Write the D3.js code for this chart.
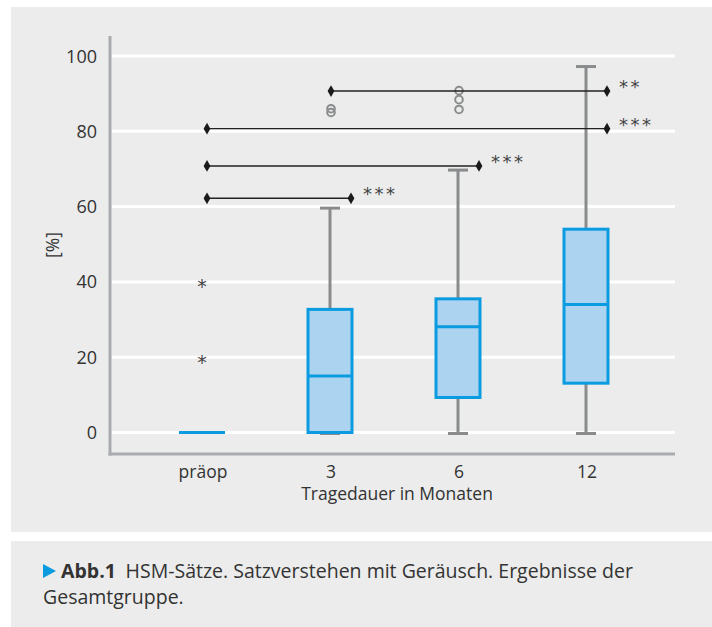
<!DOCTYPE html>
<html>
<head>
<meta charset="utf-8">
<script src="https://cdn.jsdelivr.net/npm/d3@7"></script>
<style>
  body { margin: 0; background: #fff; }
  svg text { font-family: "Open Sans", "Noto Sans", sans-serif; fill: #333; }
  svg text.star { font-family: "DejaVu Sans", sans-serif; fill: #444; }
</style>
</head>
<body>
<div id="App"></div>
<script>
// categories and box statistics
const categories = ['präop', '3', '6', '12'];
const whiskerLow = [0, 0, 0, 0];
const q1 = [0, 0, 9.3, 13.1];
const median = [0, 15.0, 28.1, 34.0];
const q3 = [0, 32.7, 35.5, 54.0];
const whiskerHigh = [0, 59.6, 69.7, 97.2];
// outliers: circles (o) and extremes (*)
const outliers = [
  { cat: '3', v: 86, kind: 'o' },
  { cat: '3', v: 85, kind: 'o' },
  { cat: '6', v: 90.8, kind: 'o' },
  { cat: '6', v: 88.4, kind: 'o' },
  { cat: '6', v: 85.8, kind: 'o' },
  { cat: 'präop', v: 39.6, kind: '*' },
  { cat: 'präop', v: 19.4, kind: '*' }
];
// significance brackets
const brackets = [
  { from: 'präop', to: '3', v: 62.2, label: '***' },
  { from: 'präop', to: '6', v: 70.8, label: '***' },
  { from: 'präop', to: '12', v: 80.7, label: '***' },
  { from: '3', to: '12', v: 90.7, label: '**' }
];
const yTicks = [0, 20, 40, 60, 80, 100];

const width = 712, height = 627;
const svg = d3.select('#App').append('svg')
  .attr('width', width).attr('height', height);

// panels
svg.append('rect').attr('x', 11).attr('y', 7).attr('width', width - 11).attr('height', 525).attr('fill', '#ebeceb');
svg.append('rect').attr('x', 11).attr('y', 541).attr('width', width - 11).attr('height', height - 541).attr('fill', '#ebeceb');

const x = d3.scaleBand().domain(categories).range([138, 650]);
const cx = c => x(c) + x.bandwidth() / 2;
const y = d3.scaleLinear().domain([0, 100]).range([432.5, 56]);
const boxW = 44;

// gridlines
svg.append('g').selectAll('line').data(yTicks).enter().append('line')
  .attr('x1', 112).attr('x2', 675)
  .attr('y1', d => y(d)).attr('y2', d => y(d))
  .attr('stroke', '#fff').attr('stroke-width', 3);

// axes lines
svg.append('line').attr('x1', 110).attr('x2', 110).attr('y1', 36).attr('y2', 455.5)
  .attr('stroke', '#a9abaf').attr('stroke-width', 3);
svg.append('line').attr('x1', 108.5).attr('x2', 675).attr('y1', 454).attr('y2', 454)
  .attr('stroke', '#a9abaf').attr('stroke-width', 3);

// y tick labels
svg.append('g').selectAll('text').data(yTicks).enter().append('text')
  .attr('x', 97).attr('y', d => y(d) + 6.5)
  .attr('text-anchor', 'end').attr('font-size', 18)
  .text(d => d);

// x tick labels
svg.append('g').selectAll('text').data(categories).enter().append('text')
  .attr('x', d => cx(d) + 1).attr('y', 478)
  .attr('text-anchor', 'middle').attr('font-size', 17.5)
  .text(d => d);

svg.append('text').attr('x', 397).attr('y', 500).attr('text-anchor', 'middle')
  .attr('font-size', 17.5).text('Tragedauer in Monaten');

svg.append('text').attr('transform', 'translate(59,245) rotate(-90)')
  .attr('text-anchor', 'middle').attr('font-size', 17.5).text('[%]');

// boxes
const boxes = categories.map((c, i) => ({
  c, lo: whiskerLow[i], q1: q1[i], med: median[i], q3: q3[i], hi: whiskerHigh[i]
}));
const bg = svg.append('g').selectAll('g').data(boxes).enter().append('g');

bg.filter(d => d.hi > d.lo).append('line')
  .attr('x1', d => cx(d.c)).attr('x2', d => cx(d.c))
  .attr('y1', d => y(d.lo)).attr('y2', d => y(d.hi))
  .attr('stroke', '#8a8b8d').attr('stroke-width', 3);
bg.filter(d => d.hi > d.lo).selectAll('.cap').data(d => [d.lo, d.hi].map(v => ({ c: d.c, v }))).enter()
  .append('line')
  .attr('x1', d => cx(d.c) - 10).attr('x2', d => cx(d.c) + 10)
  .attr('y1', d => y(d.v) + (d.v === 0 ? 1 : 0)).attr('y2', d => y(d.v) + (d.v === 0 ? 1 : 0))
  .attr('stroke', '#8a8b8d').attr('stroke-width', 3);

bg.filter(d => d.q3 > d.q1).append('rect')
  .attr('x', d => cx(d.c) - boxW / 2).attr('width', boxW)
  .attr('y', d => y(d.q3)).attr('height', d => y(d.q1) - y(d.q3))
  .attr('fill', '#acd3f0').attr('stroke', '#0a9be0').attr('stroke-width', 3);

bg.append('line')
  .attr('x1', d => cx(d.c) - boxW / 2 - (d.q3 > d.q1 ? 0 : 1)).attr('x2', d => cx(d.c) + boxW / 2 + (d.q3 > d.q1 ? 0 : 1))
  .attr('y1', d => y(d.med)).attr('y2', d => y(d.med))
  .attr('stroke', '#0a9be0').attr('stroke-width', 3);

// outliers
svg.append('g').selectAll('circle').data(outliers.filter(d => d.kind === 'o')).enter()
  .append('circle')
  .attr('cx', d => cx(d.cat) + 1).attr('cy', d => y(d.v)).attr('r', 3.8)
  .attr('fill', 'none').attr('stroke', '#8a8b8d').attr('stroke-width', 2);
svg.append('g').selectAll('text').data(outliers.filter(d => d.kind === '*')).enter()
  .append('text').attr('class', 'star')
  .attr('x', d => cx(d.cat)).attr('y', d => y(d.v) + 10)
  .attr('text-anchor', 'middle').attr('font-size', 19)
  .text('*');

// significance brackets
const diamond = d3.symbol().type(d3.symbolDiamond).size(40);
const br = svg.append('g').selectAll('g').data(brackets).enter().append('g');
const bx1 = d => cx(d.from) + (d.from === 'präop' ? 5 : 1);
const bx2 = d => cx(d.to) + 21;
br.append('line')
  .attr('x1', bx1).attr('x2', bx2)
  .attr('y1', d => y(d.v)).attr('y2', d => y(d.v))
  .attr('stroke', '#222').attr('stroke-width', 1.4);
br.selectAll('path').data(d => [[bx1(d), y(d.v)], [bx2(d), y(d.v)]]).enter()
  .append('path')
  .attr('transform', d => `translate(${d[0]},${d[1]})`)
  .attr('d', diamond).attr('fill', '#1a1a1a');
br.append('text').attr('class', 'star')
  .attr('x', d => bx2(d) + 12).attr('y', d => y(d.v) + 2)
  .attr('font-size', 18).attr('letter-spacing', 2.5)
  .text(d => d.label);

// caption
const cap = svg.append('text').attr('x', 61).attr('y', 578).attr('font-size', 19.5);
cap.append('tspan').attr('font-weight', 'bold').text('Abb.1');
cap.append('tspan').text('\u2002HSM-Sätze. Satzverstehen mit Geräusch. Ergebnisse der');
svg.append('text').attr('x', 43).attr('y', 604).attr('font-size', 19.5).text('Gesamtgruppe.');
svg.append('path').attr('d', 'M43,564 L56,571 L43,578 Z').attr('fill', '#0a9be0');
</script>
</body>
</html>
